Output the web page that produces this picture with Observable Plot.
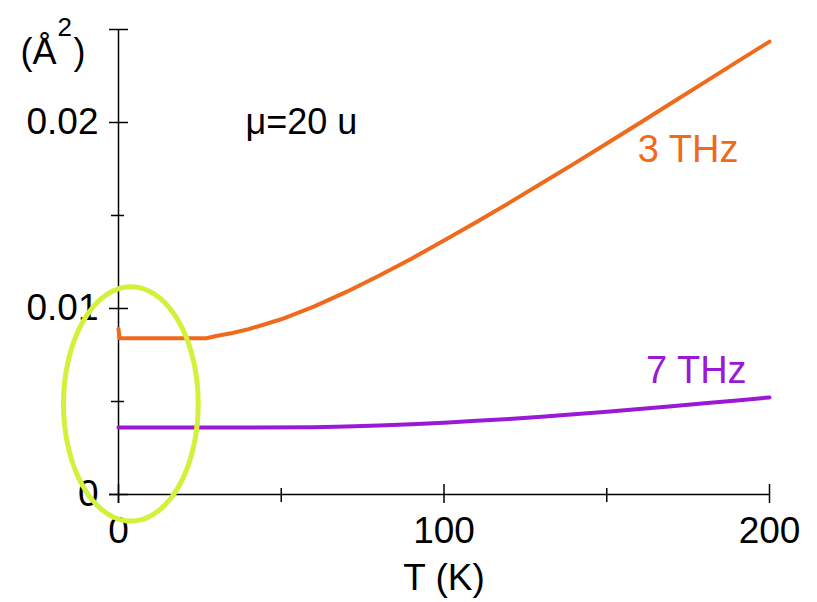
<!DOCTYPE html>
<html>
<head>
<meta charset="utf-8">
<script src="https://cdn.jsdelivr.net/npm/d3@7"></script>
<script src="https://cdn.jsdelivr.net/npm/@observablehq/plot@0.6"></script>
<style>
  html, body { margin: 0; padding: 0; background: #fff; }
  #chart { width: 817px; height: 602px; }
</style>
</head>
<body>
<div id="chart"></div>
<script>
// ---- data ----
const temps3 = [0, 0.3, 10, 20, 27, 30, 35, 40, 50, 60, 70, 80, 90, 100, 110, 120, 130, 140, 150, 160, 170, 180, 190, 200];
const msd3   = [0.0089, 0.0084, 0.0084, 0.0084, 0.0084, 0.00852, 0.00868, 0.00889, 0.00942, 0.0101, 0.01089, 0.01176, 0.01268, 0.01365, 0.01465, 0.01568, 0.01673, 0.01779, 0.01887, 0.01996, 0.02106, 0.02216, 0.02326, 0.02435];
const temps7 = [0, 20, 40, 60, 70, 80, 90, 100, 110, 120, 130, 140, 150, 160, 170, 180, 190, 200];
const msd7   = [0.0036, 0.0036, 0.0036, 0.00362, 0.00366, 0.00371, 0.00378, 0.00386, 0.00396, 0.00406, 0.00418, 0.00431, 0.00445, 0.0046, 0.00475, 0.0049, 0.00506, 0.00522];
const seriesNames = ["3 THz", "7 THz"];
const seriesColors = ["#f06a1c", "#9b19d6"];
const xMajorTicks = [0, 100, 200];
const xMinorTicks = [50, 150];
const yMajorTicks = [0, 0.01, 0.02, 0.025];
const yMinorTicks = [0.005, 0.015];
const yTickLabels = [0, 0.01, 0.02];
const yLabelText = ["0", "0.01", "0.02"];
// highlight ellipse: center (T, value) and radii (T, value)
const ellipseCenter = [3.8, 0.00487];
const ellipseRadii = [20.7, 0.0063];

const rows = [
  ...temps3.map((t, i) => ({T: t, v: msd3[i], s: seriesNames[0]})),
  ...temps7.map((t, i) => ({T: t, v: msd7[i], s: seriesNames[1]}))
];
const ellipse = d3.range(0, 73).map(k => {
  const a = (k / 72) * 2 * Math.PI;
  return {T: ellipseCenter[0] + ellipseRadii[0] * Math.cos(a), v: ellipseCenter[1] + ellipseRadii[1] * Math.sin(a)};
});

const FONT = "Liberation Sans, Arial, Helvetica, sans-serif";
const frameW = 817 - 118 - 48;
const frameH = 602 - 29 - 108;

const chart = Plot.plot({
  width: 817,
  height: 602,
  marginLeft: 118,
  marginRight: 48,
  marginTop: 29,
  marginBottom: 108,
  style: {fontFamily: FONT, background: "white", overflow: "visible"},
  x: {domain: [0, 200], axis: null},
  y: {domain: [0, 0.025], axis: null},
  color: {domain: seriesNames, range: seriesColors},
  marks: [
    // axes lines
    Plot.ruleY([0], {stroke: "black", strokeWidth: 1.5, insetLeft: -9}),
    Plot.ruleX([0], {stroke: "black", strokeWidth: 1.5, insetBottom: -9}),
    // ticks
    Plot.ruleX(xMajorTicks, {x: d => d, stroke: "black", strokeWidth: 1.5, insetTop: frameH - 10, insetBottom: -9}),
    Plot.ruleX(xMinorTicks, {x: d => d, stroke: "black", strokeWidth: 1.5, insetTop: frameH - 6, insetBottom: -8}),
    Plot.ruleY(yMajorTicks, {y: d => d, stroke: "black", strokeWidth: 1.5, insetLeft: -9, insetRight: frameW - 10}),
    Plot.ruleY(yMinorTicks, {y: d => d, stroke: "black", strokeWidth: 1.5, insetLeft: -7, insetRight: frameW - 6}),
    // tick labels
    Plot.text(xMajorTicks, {x: d => d, y: 0, text: d => String(d), dy: 37, fontSize: 37, fill: "black", clip: false}),
    Plot.text(yTickLabels, {x: 0, y: d => d, text: (d, i) => yLabelText[i], dx: -20, textAnchor: "end", fontSize: 37, fill: "black"}),
    // axis titles
    Plot.text(["T (K)"], {x: 100, y: 0, text: d => d, dy: 84, fontSize: 37, fill: "black"}),
    Plot.text(["(Å"], {frameAnchor: "top-left", text: d => d, dx: -98, dy: 9, textAnchor: "start", fontSize: 36, fill: "black"}),
    Plot.text(["2"], {frameAnchor: "top-left", text: d => d, dx: -61, dy: -12, textAnchor: "start", fontSize: 26, fill: "black"}),
    Plot.text([")"], {frameAnchor: "top-left", text: d => d, dx: -45, dy: 9, textAnchor: "start", fontSize: 36, fill: "black"}),
    // data lines
    Plot.line(rows, {x: "T", y: "v", z: "s", stroke: "s", strokeWidth: 4, curve: "linear"}),
    // annotations
    Plot.text(["μ=20 u"], {x: 39, y: 0.0200, text: d => d, textAnchor: "start", fontSize: 36, fill: "black"}),
    Plot.text([seriesNames[0]], {x: 175, y: 0.01855, text: d => d, fontSize: 38, fill: seriesColors[0]}),
    Plot.text([seriesNames[1]], {x: 177.5, y: 0.00667, text: d => d, fontSize: 38, fill: seriesColors[1]}),
    // highlight ellipse
    Plot.line(ellipse, {x: "T", y: "v", stroke: "#d4f03a", strokeWidth: 5, clip: false})
  ]
});
document.getElementById("chart").appendChild(chart);
</script>
</body>
</html>
